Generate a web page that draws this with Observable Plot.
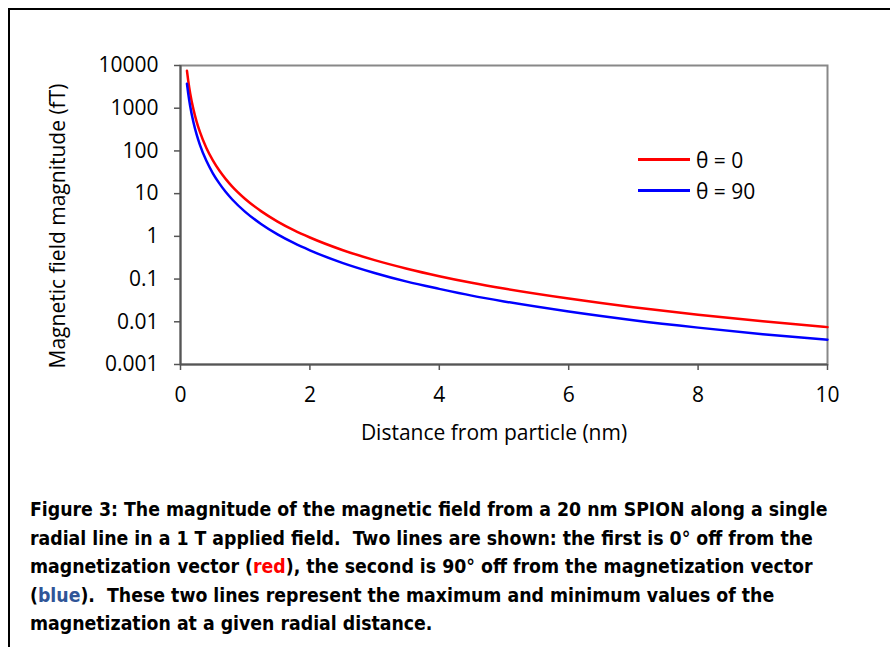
<!DOCTYPE html>
<html>
<head>
<meta charset="utf-8">
<script src="https://cdn.jsdelivr.net/npm/d3@7"></script>
<script src="https://cdn.jsdelivr.net/npm/@observablehq/plot@0.6"></script>
<style>
  html, body { margin: 0; padding: 0; background: #fff; width: 890px; height: 647px; overflow: hidden; }
  #box { position: absolute; left: 8px; top: 8px; width: 900px; height: 700px; border-left: 2px solid #000; border-top: 2px solid #000; }
  #chart { position: absolute; left: 0; top: 0; }
  #legend { position: absolute; left: 638px; top: 144px; font-family: "Open Sans", sans-serif; font-size: 21px; color: #000; }
  #legend .row { display: flex; align-items: center; height: 31px; }
  #legend .sw { width: 52px; height: 2.5px; margin-right: 6px; }
  #caption { position: absolute; left: 30px; top: 496px; font-family: "DejaVu Sans Condensed", "Liberation Sans Narrow", sans-serif; font-weight: bold; font-size: 19.3px; line-height: 28.5px; color: #000; white-space: nowrap; }
</style>
</head>
<body>
<div id="box"></div>
<div id="chart"></div>
<div id="legend"></div>
<div id="caption">
  <div>Figure 3: The magnitude of the magnetic field from a 20 nm SPION along a single</div>
  <div>radial line in a 1 T applied field.&nbsp; Two lines are shown: the first is 0° off from the</div>
  <div>magnetization vector (<span style="color:#ff0000">red</span>), the second is 90° off from the magnetization vector</div>
  <div>(<span style="color:#2f5597">blue</span>).&nbsp; These two lines represent the maximum and minimum values of the</div>
  <div>magnetization at a given radial distance.</div>
</div>
<script>
const distance = [0.1, 0.12, 0.15, 0.2, 0.25, 0.3, 0.4, 0.5, 0.6, 0.7, 0.8, 1, 1.25, 1.5, 1.75, 2, 2.5, 3, 3.5, 4, 4.5, 5, 6, 7, 8, 9, 10];
const theta0 = [7500, 4340, 2220, 938, 480, 278, 117, 60, 34.7, 21.9, 14.6, 7.5, 3.84, 2.22, 1.40, 0.94, 0.48, 0.278, 0.175, 0.117, 0.082, 0.060, 0.035, 0.0219, 0.0146, 0.0103, 0.0075];
const theta90 = [3750, 2170, 1110, 469, 240, 139, 58.6, 30, 17.4, 10.9, 7.3, 3.75, 1.92, 1.11, 0.70, 0.47, 0.24, 0.139, 0.087, 0.059, 0.041, 0.030, 0.0174, 0.0109, 0.0073, 0.0051, 0.0038];
const seriesNames = ["θ = 0", "θ = 90"];
const seriesColors = ["#ff0000", "#0000ff"];
const yTicks = [0.001, 0.01, 0.1, 1, 10, 100, 1000, 10000];
const yTickLabels = ["0.001", "0.01", "0.1", "1", "10", "100", "1000", "10000"];
const xTicks = [0, 2, 4, 6, 8, 10];
const xTitle = "Distance from particle (nm)";
const yTitle = "Magnetic field magnitude (fT)";

const rows = [];
distance.forEach((d, i) => {
  rows.push({x: d, y: theta0[i], s: seriesNames[0]});
  rows.push({x: d, y: theta90[i], s: seriesNames[1]});
});

const font = "'Open Sans', sans-serif";
const plot = Plot.plot({
  width: 890,
  height: 470,
  marginLeft: 180,
  marginRight: 63,
  marginTop: 65,
  marginBottom: 106,
  style: { fontFamily: font, fontSize: "21px", color: "#000", background: "transparent", overflow: "visible" },
  x: { domain: [0, 10], ticks: xTicks },
  y: { type: "log", domain: [0.001, 10000] },
  color: { domain: seriesNames, range: seriesColors },
  marks: [
    Plot.frame({ stroke: "#888", strokeWidth: 2 }),
    Plot.axisX({ ticks: xTicks, tickSize: 6, tickPadding: 17, stroke: "#555", strokeWidth: 1.5, label: null, fontSize: 21 }),
    Plot.axisY({ ticks: yTicks, tickFormat: (d) => yTickLabels[yTicks.indexOf(d)], tickSize: 6, tickPadding: 16, stroke: "#555", strokeWidth: 1.5, label: null, fontSize: 21 }),
    Plot.ruleX([0], { stroke: "#555", strokeWidth: 2 }),
    Plot.ruleY([0.001], { stroke: "#555", strokeWidth: 2 }),
    Plot.line(rows, { x: "x", y: "y", z: "s", stroke: "s", strokeWidth: 2.5, curve: "monotone-x" }),
    Plot.text([xTitle], { frameAnchor: "bottom", dy: 69, dx: -10, text: d => d, fontSize: 21, lineAnchor: "middle", textAnchor: "middle" }),
    Plot.text([yTitle], { frameAnchor: "left", dx: -122, dy: 11, rotate: -90, text: d => d, fontSize: 21, lineAnchor: "middle", textAnchor: "middle" })
  ]
});
document.getElementById("chart").appendChild(plot);

const legend = document.getElementById("legend");
seriesNames.forEach((name, i) => {
  const row = document.createElement("div");
  row.className = "row";
  const sw = document.createElement("span");
  sw.className = "sw";
  sw.style.background = seriesColors[i];
  const label = document.createElement("span");
  label.textContent = name;
  row.appendChild(sw);
  row.appendChild(label);
  legend.appendChild(row);
});
</script>
</body>
</html>
